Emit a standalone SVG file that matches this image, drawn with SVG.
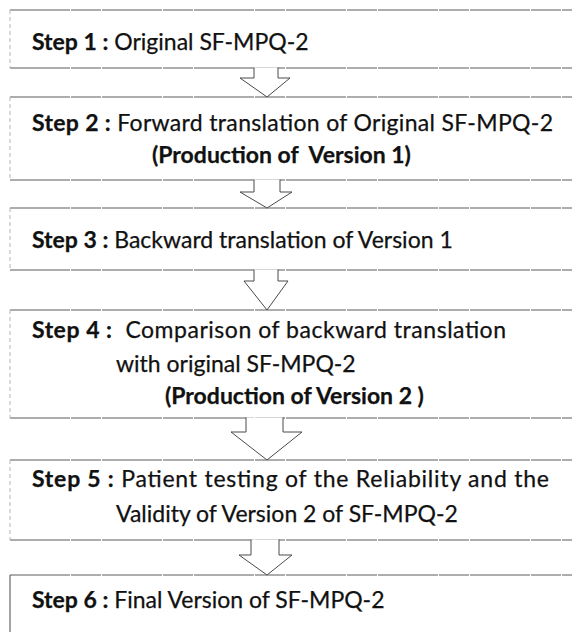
<svg xmlns="http://www.w3.org/2000/svg" width="572" height="632" viewBox="0 0 572 632">
<style>
.bg{fill:#fff;stroke:none}
.edge{fill:none;stroke:#5a5a5a;stroke-width:1;stroke-dasharray:60 1 30 1}
.side{fill:none;stroke:#b5b5b5;stroke-width:1;stroke-dasharray:4 3}
.arr{fill:#fff;stroke:#4a4a4a;stroke-width:1}
text{font-family:Lato,"Open Sans","Liberation Sans",sans-serif;font-size:23px;fill:#111;stroke:#111;stroke-width:0.25}
.b{font-weight:bold}
</style>
<rect width="572" height="632" fill="#fff"/>
<g id="step1">
<rect class="bg" x="10" y="10" width="562" height="58"/>
<path class="edge" d="M10,10 H572 M10,68 H572"/>
<path class="side" d="M10,10 V68"/>
<text x="32" y="50"><tspan class="b">Step 1 :</tspan> Original SF-MPQ-2</text>
</g>
<g id="step2">
<rect class="bg" x="10" y="97" width="562" height="83"/>
<path class="edge" d="M10,97 H572 M10,180 H572"/>
<path class="side" d="M10,97 V180"/>
<text x="32" y="131" textLength="521"><tspan class="b">Step 2 :</tspan> Forward translation of Original SF-MPQ-2</text>
<text class="b" x="152" y="163" xml:space="preserve">(Production of  Version 1)</text>
</g>
<g id="step3">
<rect class="bg" x="10" y="208" width="562" height="62"/>
<path class="edge" d="M10,208 H572 M10,270 H572"/>
<path class="side" d="M10,208 V270"/>
<text x="32" y="248"><tspan class="b">Step 3 :</tspan> Backward translation of Version 1</text>
</g>
<g id="step4">
<rect class="bg" x="10" y="310" width="562" height="108"/>
<path class="edge" d="M10,310 H572 M10,418 H572"/>
<path class="side" d="M10,310 V418"/>
<text x="32" y="338" textLength="474" xml:space="preserve"><tspan class="b">Step 4 :</tspan>  Comparison of backward translation</text>
<text x="116" y="372">with original SF-MPQ-2</text>
<text class="b" x="165" y="404">(Production of Version 2 )</text>
</g>
<g id="step5">
<rect class="bg" x="10" y="460" width="562" height="80"/>
<path class="edge" d="M10,460 H572 M10,540 H572"/>
<path class="side" d="M10,460 V540"/>
<text x="32" y="487" textLength="517"><tspan class="b">Step 5 :</tspan> Patient testing of the Reliability and the</text>
<text x="116" y="522">Validity of Version 2 of SF-MPQ-2</text>
</g>
<g id="step6">
<rect class="bg" x="10" y="575" width="562" height="57"/>
<path class="edge" d="M10,575 H572"/>
<path class="arr" d="M10,575 V632"/>
<text x="32" y="608"><tspan class="b">Step 6 :</tspan> Final Version of SF-MPQ-2</text>
</g>
<g id="connectors">
<path class="arr" d="M254,67.5 V78 H240 L267,97 L290,78 H278 V67.5"/>
<path class="arr" d="M254,179.5 V192 H240 L267,208 L292,192 H280 V179.5"/>
<path class="arr" d="M254,269.5 V281 H244 L267,310 L288,281 H278 V269.5"/>
<path class="arr" d="M246,417.5 V432 H231 L267,460 L302,432 H283 V417.5"/>
<path class="arr" d="M251,539.5 V555 H239 L267,575 L292,555 H279 V539.5"/>
</g>
</svg>
